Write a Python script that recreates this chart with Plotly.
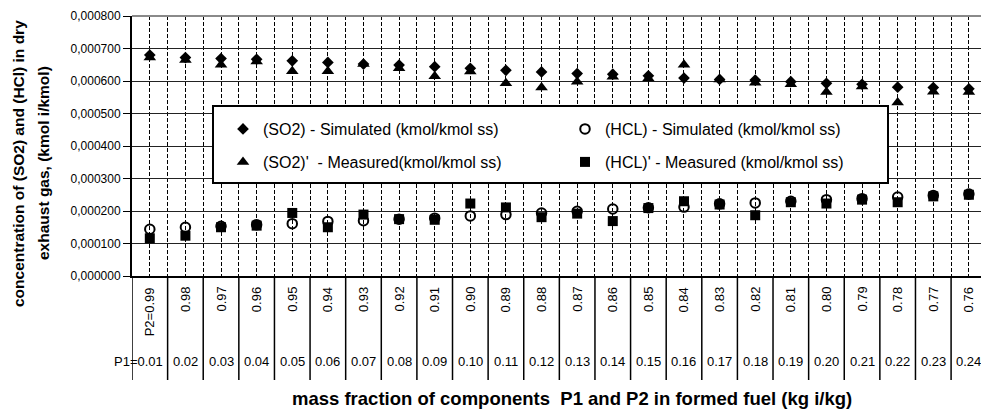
import plotly.graph_objects as go

# ---- data ----
p2_labels = ["P2=0.99", "0.98", "0.97", "0.96", "0.95", "0.94", "0.93", "0.92", "0.91", "0.90",
             "0.89", "0.88", "0.87", "0.86", "0.85", "0.84", "0.83", "0.82", "0.81", "0.80",
             "0.79", "0.78", "0.77", "0.76"]
p1_labels = ["P1=0.01", "0.02", "0.03", "0.04", "0.05", "0.06", "0.07", "0.08", "0.09", "0.10",
             "0.11", "0.12", "0.13", "0.14", "0.15", "0.16", "0.17", "0.18", "0.19", "0.20",
             "0.21", "0.22", "0.23", "0.24"]

so2_sim = [0.000680, 0.000672, 0.000669, 0.000667, 0.000662, 0.000657, 0.000652, 0.000649,
           0.000644, 0.000639, 0.000633, 0.000628, 0.000623, 0.000621, 0.000616, 0.000609,
           0.000605, 0.000603, 0.000598, 0.000593, 0.000590, 0.000581, 0.000580, 0.000576]
so2_meas = [0.000672, 0.000665, 0.000650, 0.000660, 0.000630, 0.000630, 0.000652, 0.000639,
            0.000615, 0.000629, 0.000593, 0.000580, 0.000598, 0.000613, 0.000608, 0.000650,
            0.000605, 0.000595, 0.000590, 0.000566, 0.000583, 0.000534, 0.000567, 0.000566]
hcl_sim = [0.000144, 0.000150, 0.000153, 0.000158, 0.000161, 0.000168, 0.000170, 0.000175,
           0.000178, 0.000185, 0.000189, 0.000194, 0.000199, 0.000206, 0.000210, 0.000212,
           0.000222, 0.000225, 0.000230, 0.000235, 0.000238, 0.000243, 0.000248, 0.000252]
hcl_meas = [0.000116, 0.000124, 0.000150, 0.000155, 0.000194, 0.000150, 0.000189, 0.000175,
            0.000173, 0.000223, 0.000211, 0.000181, 0.000192, 0.000169, 0.000209, 0.000230,
            0.000220, 0.000187, 0.000227, 0.000223, 0.000235, 0.000227, 0.000245, 0.000250]

y_tickvals = [0.0, 0.0001, 0.0002, 0.0003, 0.0004, 0.0005, 0.0006, 0.0007, 0.0008]
y_ticktext = ["0,000000", "0,000100", "0,000200", "0,000300", "0,000400",
              "0,000500", "0,000600", "0,000700", "0,000800"]

name_so2_sim = "(SO2) - Simulated (kmol/kmol ss)"
name_so2_meas = "(SO2)'\u00a0 - Measured(kmol/kmol ss)"
name_hcl_sim = "(HCL) - Simulated (kmol/kmol ss)"
name_hcl_meas = "(HCL)' - Measured (kmol/kmol ss)"

y_title_1 = "concentration of (SO2) and (HCl) in dry"
y_title_2 = "exhaust gas, (kmol i/kmol)"
x_title = "mass fraction of components\u00a0 P1 and P2 in formed fuel (kg i/kg)"

# ---- layout geometry (window pixels) ----
W, H = 981, 413
L, R, T = 132, 0, 16
PLOT_BOTTOM = 276
B = H - PLOT_BOTTOM
PW, PH = W - L - R, H - T - B
FONT = "Liberation Sans, Arial, sans-serif"


def px_x(px):
    return (px - L) / PW


def px_y(py):
    return (PLOT_BOTTOM - py) / PH


xs = list(range(len(p2_labels)))

fig = go.Figure()
fig.add_trace(go.Scatter(x=xs, y=so2_meas, mode="markers", name=name_so2_meas, legend="legend3",
                         marker=dict(symbol="triangle-up", size=11, color="black")))
fig.add_trace(go.Scatter(x=xs, y=so2_sim, mode="markers", name=name_so2_sim, legend="legend",
                         marker=dict(symbol="diamond", size=9, color="black")))
fig.add_trace(go.Scatter(x=xs, y=hcl_meas, mode="markers", name=name_hcl_meas, legend="legend4",
                         marker=dict(symbol="square", size=10, color="black")))
fig.add_trace(go.Scatter(x=xs, y=hcl_sim, mode="markers", name=name_hcl_sim, legend="legend2",
                         marker=dict(symbol="circle-open", size=9.5, color="black",
                                     line=dict(width=2, color="black"))))

leg_common = dict(bgcolor="rgba(0,0,0,0)", borderwidth=0, xanchor="left", yanchor="middle",
                  font=dict(family=FONT, size=16, color="black"))
col1, col2 = px_x(223), px_x(565)
row1, row2 = px_y(129), px_y(162)

annotations = []
for i, lab in enumerate(p2_labels):
    annotations.append(dict(x=i, xref="x", y=px_y(285), yref="paper", text=lab, showarrow=False,
                            textangle=-90, yanchor="top", xanchor="center",
                            font=dict(family=FONT, size=13, color="black")))
for i, lab in enumerate(p1_labels):
    if i == 0:
        annotations.append(dict(x=i + 0.42, xref="x", y=px_y(361), yref="paper", text=lab,
                                showarrow=False, xanchor="right", yanchor="middle",
                                font=dict(family=FONT, size=13, color="black")))
    else:
        annotations.append(dict(x=i, xref="x", y=px_y(361), yref="paper", text=lab,
                                showarrow=False, xanchor="center", yanchor="middle",
                                font=dict(family=FONT, size=13, color="black")))

annotations.append(dict(x=px_x(572), y=px_y(398), xref="paper", yref="paper",
                        text="<b>" + x_title + "</b>", showarrow=False,
                        xanchor="center", yanchor="middle",
                        font=dict(family=FONT, size=18.5, color="black")))
annotations.append(dict(x=px_x(18), y=px_y(163), xref="paper", yref="paper",
                        text="<b>" + y_title_1 + "</b>", showarrow=False, textangle=-90,
                        xanchor="center", yanchor="middle",
                        font=dict(family=FONT, size=15.5, color="black")))
annotations.append(dict(x=px_x(43), y=px_y(163), xref="paper", yref="paper",
                        text="<b>" + y_title_2 + "</b>", showarrow=False, textangle=-90,
                        xanchor="center", yanchor="middle",
                        font=dict(family=FONT, size=15.5, color="black")))

shapes = []
# separators of the category table below the plot
for i in range(len(p2_labels)):
    shapes.append(dict(type="line", xref="x", yref="paper", x0=i - 0.5, x1=i - 0.5,
                       y0=0, y1=px_y(380), line=dict(color="black", width=1.5)))
# top border
shapes.append(dict(type="line", xref="paper", yref="paper", x0=0, x1=1, y0=1, y1=1,
                   line=dict(color="#8a8a8a", width=2)))
# legend box
shapes.append(dict(type="rect", xref="paper", yref="paper", x0=px_x(213), x1=px_x(888),
                   y0=px_y(183), y1=px_y(106), fillcolor="white",
                   line=dict(color="black", width=2), layer="above"))

fig.update_layout(
    width=W, height=H,
    margin=dict(l=L, r=R, t=T, b=B, pad=0),
    paper_bgcolor="white", plot_bgcolor="white",
    font=dict(family=FONT, size=13, color="black"),
    showlegend=True,
    legend=dict(x=col1, y=row1, **leg_common),
    legend2=dict(x=col2, y=row1, **leg_common),
    legend3=dict(x=col1, y=row2, **leg_common),
    legend4=dict(x=col2, y=row2, **leg_common),
    xaxis=dict(range=[-0.5, len(p2_labels) - 0.66], tick0=-0.5, dtick=0.5, showgrid=True,
               gridcolor="black", gridwidth=1, griddash="4px,2px", showticklabels=False,
               ticks="", zeroline=False, showline=True, linecolor="black", linewidth=2),
    yaxis=dict(range=[0, 0.0008], tickvals=y_tickvals, ticktext=y_ticktext, showgrid=True,
               gridcolor="#222222", gridwidth=1, ticks="outside", ticklen=7, tickcolor="black",
               showline=True, linecolor="black", linewidth=2, zeroline=False,
               tickfont=dict(family=FONT, size=12, color="black")),
    annotations=annotations,
    shapes=shapes,
)

# remove the browser's default 8px page margin so the figure fills the window exactly
fig.write_html("out.html",
               config={"displayModeBar": False},
               post_script="document.body.style.margin='0';document.body.style.overflow='hidden';")
